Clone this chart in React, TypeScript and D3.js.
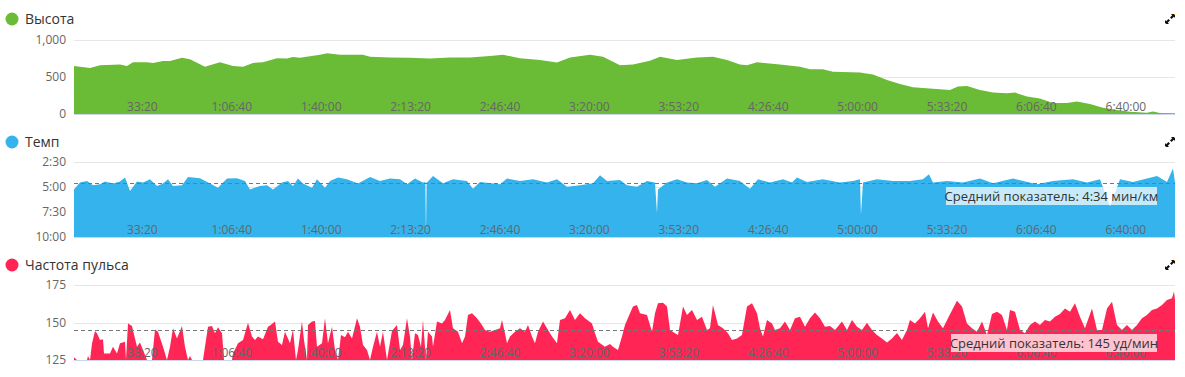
import React from "react";
import * as d3 from "d3";

// ---- data (elapsed seconds / values) ----
const elevTime = [470, 828, 1052, 1499, 1656, 1790, 2103, 2237, 2461, 2618, 2886, 3065, 3400, 3736, 4027, 4251, 4474, 4698, 5011, 5235, 5369, 5526, 5973, 6130, 6420, 6935, 7092, 7539, 7986, 8434, 8881, 9329, 9776, 10067, 10447, 10894, 11275, 11566, 12013, 12304, 12684, 12975, 13355, 13579, 13959, 14407, 14764, 15078, 15368, 15525, 15749, 15972, 16263, 16711, 16934, 17225, 17449, 18053, 18344, 18657, 18948, 19238, 19686, 20066, 20245, 20446, 20737, 21028, 21341, 21520, 21788, 22079, 22370, 22683, 22907, 23198, 23489, 23802, 24093, 24474, 24607, 24764, 25100];
const elevValue = [650, 620, 660, 670, 650, 700, 700, 690, 715, 715, 760, 740, 640, 700, 650, 640, 690, 700, 755, 750, 770, 760, 800, 820, 800, 800, 775, 765, 760, 750, 765, 765, 785, 800, 755, 730, 695, 765, 800, 775, 660, 670, 720, 775, 730, 765, 775, 730, 670, 660, 700, 685, 670, 640, 605, 605, 570, 560, 535, 460, 405, 360, 340, 325, 370, 380, 325, 290, 280, 290, 235, 210, 150, 150, 170, 135, 85, 55, 30, 18, 35, 12, 10];

const paceTime = [470, 604, 761, 895, 1052, 1163, 1342, 1499, 1611, 1723, 1879, 2014, 2170, 2327, 2461, 2573, 2685, 2886, 3020, 3289, 3512, 3691, 3893, 4116, 4295, 4407, 4631, 4787, 4922, 5123, 5257, 5369, 5481, 5593, 5794, 5906, 6085, 6197, 6376, 6577, 6823, 7092, 7315, 7539, 7763, 7919, 8098, 8277, 8330, 8344, 8358, 8367, 8501, 8725, 8948, 9261, 9396, 9552, 10000, 10156, 10447, 10738, 11051, 11275, 11498, 11789, 12080, 12237, 12393, 12684, 12841, 13064, 13288, 13467, 13512, 13534, 13736, 13959, 14183, 14407, 14630, 14809, 15078, 15368, 15592, 15771, 16040, 16331, 16532, 16644, 16867, 17225, 17605, 17896, 18053, 18075, 18120, 18433, 18791, 19171, 19462, 19596, 19686, 19999, 20357, 20737, 21028, 21475, 22012, 22370, 22818, 23131, 23422, 23646, 23870, 24160, 24697, 24921, 25055, 25100];
const paceValue = [5.24, 4.56, 4.39, 4.83, 4.73, 4.46, 4.66, 4.46, 4.05, 5.41, 4.46, 4.56, 4.22, 4.9, 4.66, 4.22, 4.9, 4.83, 3.99, 4.12, 4.66, 5.07, 4.15, 4.12, 4.39, 5.24, 4.9, 4.83, 5.24, 4.56, 4.39, 4.9, 4.15, 4.66, 5.07, 4.22, 5.07, 4.39, 4.05, 4.22, 4.66, 3.99, 4.39, 4.15, 4.22, 4.73, 4.15, 4.56, 4.5, 10, 4.5, 4.56, 3.89, 4.63, 4.22, 4.39, 5.17, 4.5, 4.73, 4.15, 4.39, 4.22, 4.56, 4.22, 4.97, 4.83, 4.63, 3.82, 4.39, 4.29, 4.83, 4.97, 4.39, 4.56, 7.6, 5.24, 4.56, 4.22, 4.56, 4.63, 4.29, 4.97, 4.15, 4.39, 5.17, 4.22, 4.56, 4.22, 4.56, 4.05, 4.5, 4.22, 4.56, 4.39, 4.22, 7.77, 4.56, 4.22, 4.39, 4.39, 4.22, 3.72, 4.56, 4.39, 4.56, 4.15, 4.63, 4.15, 4.73, 4.39, 4.22, 4.56, 4.22, 6.93, 4.22, 4.5, 3.89, 4.5, 3.14, 4.56];

const hrTime = [470, 537, 761, 783, 828, 873, 940, 984, 1052, 1119, 1141, 1275, 1342, 1432, 1499, 1611, 1633, 1678, 1767, 1879, 1946, 2014, 2103, 2215, 2282, 2349, 2461, 2550, 2618, 2685, 2774, 2886, 2953, 3020, 3065, 3110, 3356, 3400, 3468, 3557, 3624, 3691, 3781, 3826, 4004, 4027, 4139, 4251, 4362, 4452, 4519, 4586, 4698, 4810, 4899, 4966, 5033, 5123, 5190, 5302, 5369, 5436, 5481, 5570, 5615, 5682, 5705, 5794, 5861, 5906, 6018, 6085, 6152, 6241, 6309, 6376, 6443, 6532, 6599, 6689, 6801, 6868, 6935, 7024, 7092, 7159, 7248, 7315, 7382, 7472, 7584, 7695, 7763, 7830, 7919, 7986, 8031, 8098, 8165, 8232, 8277, 8344, 8389, 8478, 8501, 8590, 8702, 8769, 8881, 8948, 9060, 9150, 9217, 9284, 9373, 9485, 9597, 9664, 9776, 9888, 10000, 10044, 10111, 10156, 10223, 10335, 10447, 10559, 10626, 10715, 10782, 10850, 10962, 11051, 11163, 11275, 11342, 11454, 11566, 11677, 11789, 11901, 12058, 12125, 12192, 12348, 12460, 12527, 12639, 12729, 12796, 12908, 12975, 13064, 13131, 13288, 13400, 13467, 13534, 13646, 13736, 13803, 13915, 13982, 14094, 14183, 14295, 14407, 14518, 14630, 14697, 14764, 14876, 14988, 15100, 15189, 15301, 15413, 15525, 15637, 15749, 15816, 15883, 15972, 16084, 16151, 16263, 16375, 16487, 16599, 16711, 16823, 16934, 17046, 17158, 17270, 17382, 17494, 17650, 17762, 17874, 17986, 18098, 18209, 18321, 18433, 18545, 18657, 18769, 18881, 18992, 19104, 19171, 19283, 19395, 19507, 19574, 19686, 19798, 19910, 20021, 20133, 20223, 20335, 20446, 20558, 20670, 20782, 20894, 21006, 21118, 21229, 21341, 21408, 21520, 21632, 21744, 21856, 21968, 22079, 22191, 22303, 22415, 22527, 22639, 22751, 22862, 22974, 23086, 23243, 23355, 23467, 23579, 23691, 23802, 23914, 24026, 24138, 24250, 24361, 24473, 24585, 24697, 24809, 24921, 25033, 25078, 25100];
const hrValue = [126.8, 120, 120, 127.7, 120, 136, 144.3, 142.8, 138.3, 138.8, 129.4, 129.4, 133.9, 129.4, 136.1, 137.2, 120, 149.4, 147.7, 133.9, 136.6, 131.7, 120, 120, 145.4, 143.9, 133.9, 120, 133.9, 146.1, 139.4, 147.7, 133.9, 120, 127.7, 120, 120, 133.9, 147.2, 147.7, 142.8, 146.8, 142.8, 120, 120, 129.4, 136.1, 138.3, 149.9, 140.6, 138.3, 140.6, 138.8, 147.2, 149, 150.6, 137.2, 135, 143.9, 136.1, 145.4, 120, 131.7, 150.6, 138.3, 120, 148.3, 150.6, 151, 133.9, 136.1, 152.8, 136.1, 147.2, 131.7, 120, 141.7, 140.1, 143.9, 139.4, 152.8, 147.2, 135, 131.7, 120, 133.9, 143.9, 133.9, 143.9, 120, 144.5, 148.3, 131.7, 135, 152.8, 140.6, 120, 142.8, 141.7, 133.9, 151.7, 120, 143.9, 140.6, 133.9, 150.6, 149.4, 151.7, 158.3, 146.1, 143.9, 136.1, 140.6, 155, 156.1, 152.8, 148.3, 145, 143.9, 145, 146.1, 151.7, 142.8, 136.1, 140.6, 143.9, 146.1, 143.9, 148.3, 140.6, 136.1, 143.9, 150.6, 146.1, 140.6, 136.1, 151.7, 152.8, 158.3, 151.7, 156.1, 152.8, 149.4, 142.8, 137.2, 133.9, 135.6, 133.9, 131.7, 140.6, 148.3, 156.1, 160.6, 161.7, 156.1, 155, 143.9, 156.1, 162.8, 163.2, 160.6, 145, 142.8, 141.7, 160.6, 155, 158.3, 151.7, 153.9, 145, 146.1, 161.7, 148.3, 146.1, 142.8, 138.3, 139.4, 141.7, 160.6, 162.8, 156.1, 146.1, 140.6, 151.7, 149.4, 145, 146.1, 150.6, 145, 152.8, 153.9, 147.2, 152.8, 156.6, 152.8, 147.2, 147.7, 145, 150.6, 145, 151.7, 147.2, 145, 149.8, 145, 141.7, 139.4, 136.6, 139.4, 143, 138.3, 145, 151.7, 149.4, 152.8, 157.2, 146.1, 156.6, 150.6, 146.1, 152.8, 159.4, 164.5, 160.6, 149.4, 146.1, 143.9, 150.6, 141.7, 155.6, 157.2, 155, 145, 158.3, 157.2, 145, 142.8, 148.3, 150.6, 148.3, 151.7, 150.6, 153.9, 155.6, 159.4, 157.2, 162.8, 153.9, 146.1, 159.4, 145, 145, 159.4, 163.9, 148.3, 145, 148.3, 145, 148.3, 152.8, 155, 158.3, 159.4, 161.7, 165, 166.1, 170.6, 165];

const timeTicks = [2000, 4000, 6000, 8000, 10000, 12000, 14000, 16000, 18000, 20000, 22000, 24000];
const elevTicks = [0, 500, 1000];
const paceTicks = [2.5, 5, 7.5, 10];
const hrTicks = [125, 150, 175];
const paceAvg = 4 + 34 / 60;
const hrAvg = 145;

const titles = ["Высота", "Темп", "Частота пульса"];
const paceAvgLabel = "Средний показатель: 4:34 мин/км";
const hrAvgLabel = "Средний показатель: 145 уд/мин";

const FONT = "'Open Sans', 'DejaVu Sans', sans-serif";
const X0 = 74;
const X1 = 1175;

const xScale = d3.scaleLinear().domain([470, 25100]).range([X0, X1]);

const fmtTime = (s: number) => {
  const h = Math.floor(s / 3600);
  const m = Math.floor((s % 3600) / 60);
  const sec = Math.round(s % 60);
  const pad = (n: number) => String(n).padStart(2, "0");
  return h > 0 ? `${h}:${pad(m)}:${pad(sec)}` : `${m}:${pad(sec)}`;
};
const fmtPace = (v: number) => {
  const m = Math.floor(v);
  const s = Math.round((v - m) * 60);
  return `${m}:${String(s).padStart(2, "0")}`;
};

function ExpandIcon({ cx, cy }: { cx: number; cy: number }) {
  return (
    <g transform={`translate(${cx},${cy})`} fill="#111" stroke="none">
      <path d="M1,-5 L5,-5 L5,-1 L3.8,-2.2 L1.6,0 L0,-1.6 L2.2,-3.8 Z" />
      <path d="M-1,5 L-5,5 L-5,1 L-3.8,2.2 L-1.6,0 L0,1.6 L-2.2,3.8 Z" />
      <rect x={4} y={-5} width={1} height={1} fill="#e0a030" />
      <rect x={-5} y={4} width={1} height={1} fill="#e0a030" />
    </g>
  );
}

function Panel(props: {
  title: string;
  color: string;
  titleY: number;
  top: number;
  bottom: number;
  domain: [number, number];
  ticks: number[];
  fmt: (v: number) => string;
  times: number[];
  values: number[];
  baseValue: number;
  avg?: number;
  avgLabel?: string;
  avgBox?: { x: number; w: number; yc: number; fill: string };
}) {
  const { title, color, titleY, top, bottom, domain, ticks, fmt, times, values, baseValue, avg, avgLabel, avgBox } = props;
  const y = d3.scaleLinear().domain(domain).range([bottom, top]).clamp(true);
  const data = times.map((t, i) => [t, values[i]] as [number, number]);
  const area = d3
    .area<[number, number]>()
    .x((d) => xScale(d[0]))
    .y0(y(baseValue))
    .y1((d) => y(d[1]));
  return (
    <g>
      <circle cx={12} cy={titleY} r={6.5} fill={color} />
      <text x={25} y={titleY} dy="0.35em" fontSize={14} fill="#333" fontFamily={FONT}>
        {title}
      </text>
      <ExpandIcon cx={1170} cy={titleY} />
      {ticks.map((t) => (
        <g key={t}>
          <line x1={X0} x2={X1} y1={Math.round(y(t)) + 0.5} y2={Math.round(y(t)) + 0.5} stroke="#e6e6e6" />
          <text x={66} y={y(t)} dy="0.35em" textAnchor="end" fontSize={12} fill="#666" fontFamily={FONT}>
            {fmt(t)}
          </text>
        </g>
      ))}
      <path d={area(data) || ""} fill={color} />
      <line x1={X0} x2={X1} y1={bottom + 0.5} y2={bottom + 0.5} stroke="#ccd6eb" />
      {timeTicks.map((t) => (
        <text key={t} x={xScale(t)} y={bottom - 3.5} textAnchor="middle" fontSize={12} fill="#666" fontFamily={FONT}>
          {fmtTime(t)}
        </text>
      ))}
      {avg !== undefined && (
        <line x1={X0} x2={X1} y1={Math.round(y(avg)) + 0.5} y2={Math.round(y(avg)) + 0.5} stroke="#777" strokeDasharray="4,3" />
      )}
      {avgLabel && avgBox && (
        <g>
          <rect x={avgBox.x} y={avgBox.yc - 9} width={avgBox.w} height={18} fill={avgBox.fill} />
          <text x={avgBox.x + avgBox.w / 2} y={avgBox.yc} dy="0.35em" textAnchor="middle" fontSize={13} fill="#333" fontFamily={FONT}>
            {avgLabel}
          </text>
        </g>
      )}
    </g>
  );
}

export default function App() {
  return (
    <svg width={1185} height={377} style={{ position: "absolute", left: 0, top: 0, display: "block" }}>
      <rect width={1185} height={377} fill="#fff" />
      <Panel
        title={titles[0]}
        color="#6abb35"
        titleY={19}
        top={40}
        bottom={114}
        domain={[0, 1000]}
        ticks={elevTicks}
        fmt={(v) => d3.format(",")(v)}
        times={elevTime}
        values={elevValue}
        baseValue={0}
      />
      <Panel
        title={titles[1]}
        color="#35b3ec"
        titleY={142}
        top={162}
        bottom={237}
        domain={[10, 2.5]}
        ticks={paceTicks}
        fmt={fmtPace}
        times={paceTime}
        values={paceValue}
        baseValue={10}
        avg={paceAvg}
        avgLabel={paceAvgLabel}
        avgBox={{ x: 946, w: 211, yc: 196, fill: "rgba(255,255,255,0.72)" }}
      />
      <Panel
        title={titles[2]}
        color="#ff2555"
        titleY={265}
        top={285}
        bottom={360}
        domain={[125, 175]}
        ticks={hrTicks}
        fmt={(v) => String(v)}
        times={hrTime}
        values={hrValue}
        baseValue={125}
        avg={hrAvg}
        avgLabel={hrAvgLabel}
        avgBox={{ x: 951, w: 206, yc: 343, fill: "rgba(255,255,255,0.72)" }}
      />
    </svg>
  );
}
